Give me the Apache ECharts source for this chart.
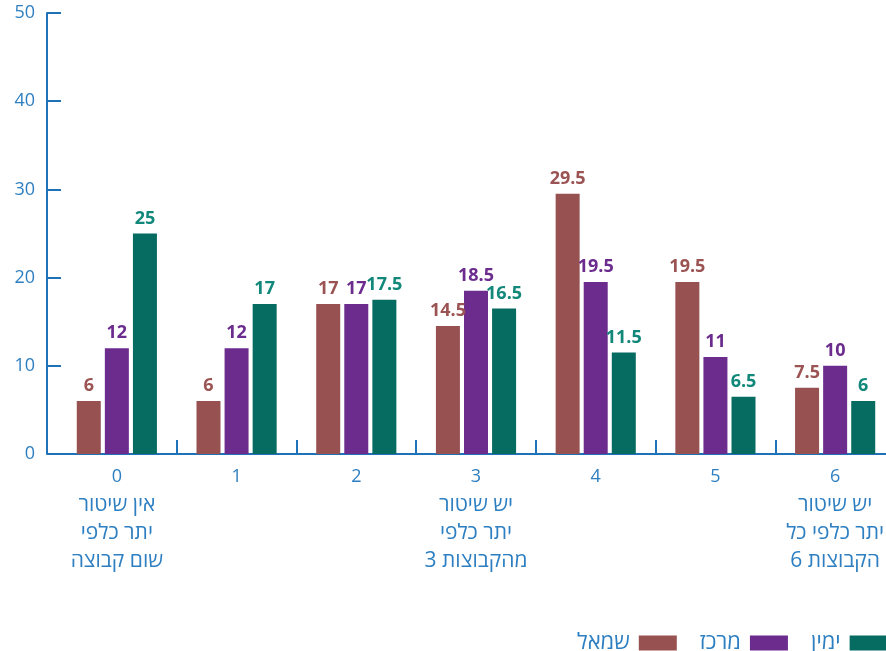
<!DOCTYPE html>
<html>
<head>
<meta charset="utf-8">
<script src="https://cdn.jsdelivr.net/npm/echarts@6/dist/echarts.min.js"></script>
<style>
  html, body { margin: 0; padding: 0; background: #fff; }
  #chart { width: 886px; height: 651px; }
</style>
</head>
<body>
<div id="chart"></div>
<script>
'use strict';

var categories = [
    '0\nאין שיטור\nיתר כלפי\nשום קבוצה',
    '1',
    '2',
    '3\nיש שיטור\nיתר כלפי\n3 מהקבוצות',
    '4',
    '5',
    '6\nיש שיטור\nיתר כלפי כל\n6 הקבוצות'
];
var seriesNames = ['שמאל', 'מרכז', 'ימין'];
var leftValues = [6, 6, 17, 14.5, 29.5, 19.5, 7.5];
var centerValues = [12, 12, 17, 18.5, 19.5, 11, 10];
var rightValues = [25, 17, 17.5, 16.5, 11.5, 6.5, 6];
var yTicks = [0, 10, 20, 30, 40, 50];

var axisBlue = '#1f72b8';
var textBlue = '#2d7fc1';
var font = '"Open Sans", "Noto Sans", "DejaVu Sans", sans-serif';

function barSeries(name, values, color, labelColor) {
    return {
        name: name,
        type: 'bar',
        data: values,
        barWidth: 24,
        barGap: '17%',
        itemStyle: { color: color },
        label: {
            show: true,
            position: 'top',
            distance: 6,
            color: labelColor,
            fontFamily: font,
            fontWeight: 'bold',
            fontSize: 18
        }
    };
}

// first line is the number, the rest is the hebrew description.
// a leading digit in a hebrew line goes in its own token so it stays on the left
function categoryLabel(value) {
    var lines = value.split('\n');
    var out = '{n|' + lines[0] + '}';
    for (var i = 1; i < lines.length; i++) {
        var m = lines[i].match(/^(\d+) (.*)$/);
        if (m) {
            out += '\n{h|' + m[1] + ' }{h|' + m[2] + '}';
        } else {
            out += '\n{h|' + lines[i] + '}';
        }
    }
    return out;
}

var chart = echarts.init(document.getElementById('chart'));

var option = {
    animation: false,
    textStyle: { fontFamily: font },
    legend: {
        data: seriesNames,
        left: 572,
        top: 627,
        align: 'right',
        itemWidth: 38,
        itemHeight: 15,
        itemGap: 23,
        icon: 'rect',
        textStyle: { color: textBlue, fontSize: 22, fontFamily: font, padding: [0, 4, 0, 0] }
    },
    grid: {
        left: 57,
        width: 838,
        top: 13,
        bottom: 197,
        outerBoundsMode: 'none',
        containLabel: false
    },
    xAxis: {
        type: 'category',
        data: categories,
        axisLine: { show: true, lineStyle: { color: axisBlue, width: 2 } },
        axisTick: {
            show: true,
            inside: true,
            length: 14,
            interval: function (index) { return index > 0; },
            lineStyle: { color: axisBlue, width: 2 }
        },
        axisLabel: {
            interval: 0,
            margin: 8,
            color: textBlue,
            fontFamily: font,
            formatter: categoryLabel,
            rich: {
                n: { fontSize: 18, lineHeight: 29, color: textBlue, fontFamily: font },
                h: { fontSize: 21, lineHeight: 28, color: textBlue, fontFamily: font }
            }
        }
    },
    yAxis: {
        type: 'value',
        min: yTicks[0],
        max: yTicks[yTicks.length - 1],
        interval: 10,
        offset: 10,
        splitLine: { show: false },
        axisLine: { show: true, lineStyle: { color: axisBlue, width: 2 } },
        axisTick: { show: true, inside: true, length: 14, lineStyle: { color: axisBlue, width: 2 } },
        axisLabel: { margin: 12, color: textBlue, fontSize: 18, fontFamily: font }
    },
    series: [
        barSeries(seriesNames[0], leftValues, '#985151', '#9b5353'),
        barSeries(seriesNames[1], centerValues, '#6b2c8e', '#6b2c8e'),
        barSeries(seriesNames[2], rightValues, '#066b61', '#11887a')
    ]
};

chart.setOption(option);
</script>
</body>
</html>
